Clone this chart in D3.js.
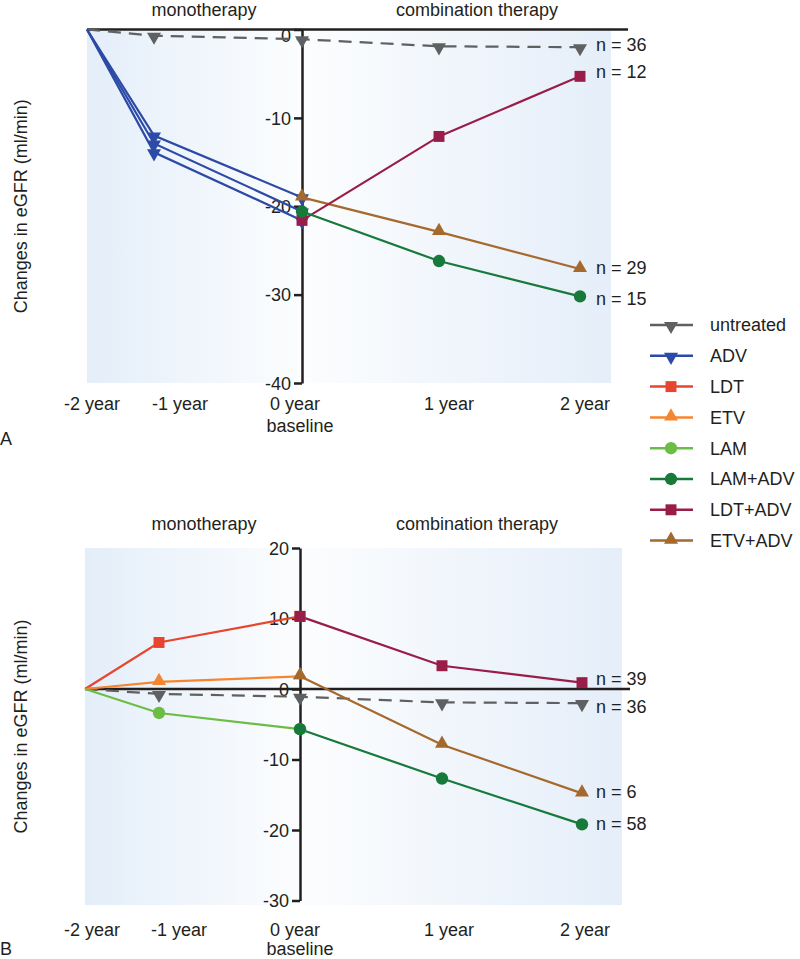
<!DOCTYPE html>
<html>
<head>
<meta charset="utf-8">
<script src="https://cdn.jsdelivr.net/npm/d3@7"></script>
<style>
  html, body { margin: 0; padding: 0; background: #fff; }
  svg text { font-family: "Liberation Sans", Arial, Helvetica, sans-serif; fill: #231f20; }
</style>
</head>
<body>
<div id="chart"></div>
<script>
// ---------- DATA ----------
const timepoints = [-2, -1, 0, 1, 2];
const xTickLabels = ["-2 year", "-1 year", "0 year", "1 year", "2 year"];
const baselineLabel = "baseline";
const phaseLabels = ["monotherapy", "combination therapy"];
const yTitle = "Changes in eGFR (ml/min)";

const seriesNames = ["untreated", "ADV", "LDT", "ETV", "LAM", "LAM+ADV", "LDT+ADV", "ETV+ADV"];

// Panel A (ADV monotherapy then combination)
const A_untreated = [0, -0.7, -1.1, -1.9, -2.0];
const A_ADV_toETV = [0, -12.0, -19.0];
const A_ADV_toLAM = [0, -12.9, -20.6];
const A_ADV_toLDT = [0, -13.9, -21.6];
const A_LAM_ADV = [null, null, -20.6, -26.2, -30.2];
const A_LDT_ADV = [null, null, -21.6, -12.1, -5.3];
const A_ETV_ADV = [null, null, -19.0, -22.9, -27.1];
const A_yTicks = [0, -10, -20, -30, -40];
const A_nLabels = [["n = 36", "untreated"], ["n = 12", "LDT+ADV"], ["n = 29", "ETV+ADV"], ["n = 15", "LAM+ADV"]];

// Panel B (other monotherapy then + ADV)
const B_untreated = [0, -0.7, -1.1, -1.9, -2.0];
const B_LDT = [0, 6.6, 10.3];
const B_ETV = [0, 1.0, 1.8];
const B_LAM = [0, -3.4, -5.7];
const B_LDT_ADV = [null, null, 10.3, 3.3, 0.9];
const B_ETV_ADV = [null, null, 1.8, -7.9, -14.8];
const B_LAM_ADV = [null, null, -5.7, -12.7, -19.2];
const B_yTicks = [20, 10, 0, -10, -20, -30];
const B_nLabels = [["n = 39", "LDT+ADV"], ["n = 36", "untreated"], ["n = 6", "ETV+ADV"], ["n = 58", "LAM+ADV"]];

// ---------- STYLE ----------
const styles = {
  "untreated": { color: "#5f6062", shape: "tdown", dash: "13,8" },
  "ADV":       { color: "#2c4aa6", shape: "tdown" },
  "LDT":       { color: "#e8452f", shape: "square" },
  "ETV":       { color: "#f58631", shape: "tup" },
  "LAM":       { color: "#6cbd45", shape: "circle" },
  "LAM+ADV":   { color: "#17793a", shape: "circle" },
  "LDT+ADV":   { color: "#991d49", shape: "square" },
  "ETV+ADV":   { color: "#a5692d", shape: "tup" }
};
const nudges = { "n = 36A": -2, "n = 12": -5, "n = 29": -1, "n = 15": 2, "n = 39": -4, "n = 36B": 4, "n = 6": -2, "n = 58": -1 };

const W = 800, H = 959;
const svg = d3.select("#chart").append("svg").attr("width", W).attr("height", H);
const defs = svg.append("defs");
function grad(id, c0, c1) {
  const g = defs.append("linearGradient").attr("id", id).attr("x1", "0%").attr("x2", "100%").attr("y1", "0%").attr("y2", "0%");
  g.append("stop").attr("offset", "0%").attr("stop-color", c0);
  g.append("stop").attr("offset", "100%").attr("stop-color", c1);
}
grad("gl", "#e4eef9", "#fcfdfe");
grad("gr", "#fcfdfe", "#e5eef9");

function symbolPath(shape) {
  if (shape === "circle") return d3.symbol().type(d3.symbolCircle).size(120)();
  if (shape === "square") return d3.symbol().type(d3.symbolSquare).size(120)();
  return d3.symbol().type(d3.symbolTriangle).size(85)();
}
function drawMarker(g, shape, color, x, y) {
  const p = g.append("path").attr("d", symbolPath(shape)).attr("fill", color);
  if (shape === "tdown") p.attr("transform", `translate(${x},${y + 1}) rotate(180)`);
  else if (shape === "tup") p.attr("transform", `translate(${x},${y - 1})`);
  else p.attr("transform", `translate(${x},${y})`);
}

function drawPanel(cfg) {
  const g = svg.append("g");
  const x = d3.scaleLinear().domain(timepoints).range(cfg.xRange);
  const y = d3.scaleLinear().domain(cfg.yDomain).range(cfg.yRange);
  const ax = cfg.axisX;
  // background shading
  g.append("rect").attr("x", cfg.xRange[0]).attr("y", cfg.shadeTop).attr("width", ax - cfg.xRange[0]).attr("height", cfg.shadeBottom - cfg.shadeTop).attr("fill", "url(#gl)");
  g.append("rect").attr("x", ax).attr("y", cfg.shadeTop).attr("width", cfg.shadeRight - ax).attr("height", cfg.shadeBottom - cfg.shadeTop).attr("fill", "url(#gr)");

  // y axis
  const yAxis = d3.axisLeft(y).tickValues(cfg.yTicks).tickSize(8).tickSizeOuter(0).tickPadding(3).tickFormat(d => String(d));
  const ya = g.append("g").attr("transform", `translate(${ax},0)`).call(yAxis);
  ya.select(".domain").attr("stroke", "#231f20").attr("stroke-width", 2.5);
  ya.selectAll(".tick line").attr("stroke", "#231f20").attr("stroke-width", 2.5);
  ya.selectAll(".tick text").attr("font-size", 18).attr("fill", "#231f20")
    .attr("dy", d => (d === 0 && cfg.zeroNudge) ? "0.64em" : "0.34em");

  // x axis line at y=0
  g.append("line").attr("x1", cfg.xRange[0]).attr("x2", cfg.axisRight).attr("y1", y(0)).attr("y2", y(0)).attr("stroke", "#231f20").attr("stroke-width", 2.5);

  const line = d3.line().defined(d => d.v !== null).x(d => x(d.t)).y(d => y(d.v));
  cfg.series.forEach(([name, vals]) => {
    const st = styles[name];
    const pts = vals.map((v, i) => ({ t: timepoints[i], v: v }));
    g.append("path").datum(pts).attr("d", line).attr("fill", "none").attr("stroke", st.color).attr("stroke-width", 2.2).attr("stroke-dasharray", st.dash || null);
  });
  cfg.series.forEach(([name, vals]) => {
    const st = styles[name];
    vals.forEach((v, i) => {
      if (v === null) return;
      if (i === 0) return; // start point has no marker
      drawMarker(g, st.shape, st.color, x(timepoints[i]), y(v));
    });
  });

  // n labels
  cfg.nLabels.forEach(([txt, name]) => {
    const vals = cfg.series.find(s => s[0] === name)[1];
    const last = vals[vals.length - 1];
    const key = txt === "n = 36" ? txt + cfg.tag : txt;
    g.append("text").attr("x", 596).attr("y", y(last) + (nudges[key] || 0)).attr("dy", "0.35em").attr("font-size", 18).text(txt);
  });

  // x labels
  cfg.xLabelPos.forEach((px, i) => {
    g.append("text").attr("x", px).attr("y", cfg.xLabelY).attr("text-anchor", "middle").attr("font-size", 18).text(xTickLabels[i]);
  });
  g.append("text").attr("x", cfg.xLabelPos[2] + 5).attr("y", cfg.baselineY).attr("text-anchor", "middle").attr("font-size", 18).text(baselineLabel);

  // phase labels
  g.append("text").attr("x", 204).attr("y", cfg.phaseY).attr("text-anchor", "middle").attr("font-size", 18).text(phaseLabels[0]);
  g.append("text").attr("x", 477).attr("y", cfg.phaseY).attr("text-anchor", "middle").attr("font-size", 18).text(phaseLabels[1]);

  // y title
  const cy = (cfg.shadeTop + cfg.shadeBottom) / 2;
  g.append("text").attr("transform", `translate(27,${cy}) rotate(-90)`).attr("text-anchor", "middle").attr("font-size", 18).text(yTitle);

  // panel letter
  g.append("text").attr("x", 0).attr("y", cfg.letterY).attr("font-size", 18).text(cfg.tag);
}

drawPanel({
  tag: "A",
  xRange: [87, 154, 302, 439, 580],
  yDomain: [0, -40], yRange: [29.5, 383],
  yTicks: A_yTicks, zeroNudge: true,
  axisX: 302, axisRight: 628,
  shadeTop: 29.5, shadeBottom: 383, shadeRight: 611,
  series: [["untreated", A_untreated], ["ADV", A_ADV_toETV], ["ADV", A_ADV_toLAM], ["ADV", A_ADV_toLDT],
           ["ETV+ADV", A_ETV_ADV], ["LDT+ADV", A_LDT_ADV], ["LAM+ADV", A_LAM_ADV]],
  nLabels: A_nLabels,
  xLabelPos: [92, 180, 295, 449, 585], xLabelY: 410, baselineY: 432,
  phaseY: 16, letterY: 445
});

drawPanel({
  tag: "B",
  xRange: [85, 159, 300, 442, 582],
  yDomain: [-30, 20], yRange: [900.5, 548],
  yTicks: B_yTicks, zeroNudge: false,
  axisX: 300, axisRight: 630,
  shadeTop: 548, shadeBottom: 905, shadeRight: 622,
  series: [["untreated", B_untreated], ["LDT", B_LDT], ["ETV", B_ETV], ["LAM", B_LAM],
           ["LDT+ADV", B_LDT_ADV], ["ETV+ADV", B_ETV_ADV], ["LAM+ADV", B_LAM_ADV]],
  nLabels: B_nLabels,
  xLabelPos: [92, 179, 295, 449, 585], xLabelY: 936, baselineY: 955,
  phaseY: 530, letterY: 955
});

// legend
const legend = svg.append("g");
seriesNames.forEach((name, i) => {
  const st = styles[name];
  const ly = 325 + i * 30.8;
  legend.append("line").attr("x1", 650).attr("x2", 693).attr("y1", ly).attr("y2", ly).attr("stroke", st.color).attr("stroke-width", 2.5);
  drawMarker(legend, st.shape, st.color, 671, ly);
  legend.append("text").attr("x", 710).attr("y", ly).attr("dy", "0.35em").attr("font-size", 18).text(name);
});
</script>
</body>
</html>
